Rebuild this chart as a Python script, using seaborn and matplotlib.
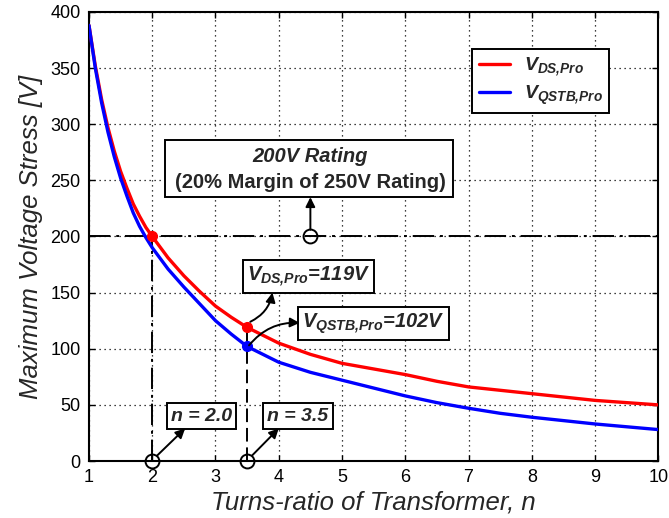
import matplotlib
matplotlib.use("Agg")
import matplotlib.pyplot as plt
from matplotlib.patches import Rectangle
import seaborn as sns
import pandas as pd

# Turns ratio and maximum voltage stress
turns_ratio = [1.0, 1.1, 1.2, 1.3, 1.4, 1.5, 1.6, 1.7, 1.8, 1.9, 2.0, 2.25, 2.5, 2.75,
               3.0, 3.25, 3.5, 4.0, 4.5, 5.0, 5.5, 6.0, 6.5, 7.0, 7.5, 8.0, 8.5,
               9.0, 9.5, 10.0]
v_ds_pro = [388, 352, 322, 297, 276, 258, 243, 229, 218, 208, 200, 181, 165, 151,
            138, 128, 119, 105, 95, 87, 82, 77, 71, 66, 63, 60, 57, 54, 52, 50]
v_qstb_pro = [388, 350, 319, 293, 271, 252, 236, 221, 209, 199, 190, 171, 155, 140,
              125, 113, 102, 88, 79, 72, 65, 58, 52, 47, 42.5, 39, 36, 33, 30.5, 28]

series_names = [r"$V_{DS{,}Pro}$", r"$V_{QSTB{,}Pro}$"]
series_colors = ["#ff0000", "#0000ff"]

rating_limit = 200
rating_n = 4.5
n_low, n_high = 2.0, 3.5
v_ds_at_high = 119
v_qstb_at_high = 102

x_ticks = list(range(1, 11))
y_ticks = list(range(0, 401, 50))

sns.set_theme(style="ticks")
plt.rcParams["font.family"] = ["Liberation Sans", "DejaVu Sans"]
plt.rcParams["mathtext.fontset"] = "custom"
plt.rcParams["mathtext.rm"] = "Liberation Sans:italic:bold"
plt.rcParams["mathtext.it"] = "Liberation Sans:italic:bold"
plt.rcParams["mathtext.bf"] = "Liberation Sans:italic:bold"

df = pd.DataFrame({
    "n": turns_ratio * 2,
    "V": v_ds_pro + v_qstb_pro,
    "series": [series_names[0]] * len(turns_ratio) + [series_names[1]] * len(turns_ratio),
})

fig = plt.figure(figsize=(6.69, 5.18), dpi=100)
ax = fig.add_axes([0.133, 0.11, 0.851, 0.867])

sns.lineplot(data=df, x="n", y="V", hue="series", palette=series_colors,
             linewidth=2.4, ax=ax, zorder=4, sort=False, legend=True)

# Reference lines
dashdot = (0, (11, 3, 1.5, 3))
ax.plot([1, 10], [rating_limit, rating_limit], color="black", lw=1.4, ls=dashdot, zorder=3)
ax.plot([n_low, n_low], [0, rating_limit], color="black", lw=1.4, ls=dashdot, zorder=3)
ax.plot([n_high, n_high], [0, v_ds_at_high], color="black", lw=1.4, ls=(0, (7, 3)), zorder=3)

# Operating points
ax.plot([n_low, n_high], [rating_limit, v_ds_at_high], ls="none", marker="o",
        ms=7, color="#ff0000", zorder=6)
ax.plot([n_high], [v_qstb_at_high], ls="none", marker="o", ms=7, color="#0000ff", zorder=6)

# Open circles marking the reference values
ax.plot([n_low, n_high, rating_n], [0, 0, rating_limit], ls="none", marker="o", ms=10,
        mfc="none", mec="black", mew=1.4, zorder=7, clip_on=False)

box = dict(boxstyle="square,pad=0.22", fc="white", ec="black", lw=1.4)
arrow = dict(arrowstyle="-|>", color="black", lw=1.4, mutation_scale=14,
             shrinkA=0, shrinkB=0)

# 200 V rating note: framed box with two differently styled lines
ax.add_patch(Rectangle((2.2, 235), 4.56, 51, fc="white", ec="black", lw=1.4, zorder=8))
ax.text(rating_n, 271, "200V Rating", ha="center", va="center", fontsize=14.5,
        fontweight="bold", style="italic", zorder=9)
ax.text(rating_n, 248.5, "(20% Margin of 250V Rating)", ha="center", va="center",
        fontsize=14.5, fontweight="bold", zorder=9)
ax.annotate("", xy=(rating_n, 235), xytext=(rating_n, 206), arrowprops=arrow, zorder=8)

# Voltage values at n = 3.5
ax.text(4.47, 164, r"$V_{DS{,}Pro}$=119V", ha="center", va="center", fontsize=14.5,
        fontweight="bold", style="italic", bbox=box, zorder=8)
ax.annotate("", xy=(3.9, 150), xytext=(3.55, 124),
            arrowprops=dict(arrow, connectionstyle="arc3,rad=0.25"), zorder=8)

ax.text(5.5, 122.5, r"$V_{QSTB{,}Pro}$=102V", ha="center", va="center", fontsize=14.5,
        fontweight="bold", style="italic", bbox=box, zorder=8)
ax.annotate("", xy=(4.33, 123), xytext=(3.53, 103),
            arrowprops=dict(arrow, connectionstyle="arc3,rad=-0.25"), zorder=8)

# Turns-ratio labels
ax.text(2.78, 40, "n = 2.0", ha="center", va="center", fontsize=14,
        fontweight="bold", style="italic", bbox=box, zorder=8)
ax.annotate("", xy=(2.52, 29), xytext=(2.08, 5), arrowprops=arrow, zorder=8)
ax.text(4.3, 40, "n = 3.5", ha="center", va="center", fontsize=14,
        fontweight="bold", style="italic", bbox=box, zorder=8)
ax.annotate("", xy=(4.0, 29), xytext=(3.58, 5), arrowprops=arrow, zorder=8)

ax.set_xlim(1, 10)
ax.set_ylim(0, 400)
ax.set_xticks(x_ticks)
ax.set_yticks(y_ticks)
ax.tick_params(direction="in", length=4, width=1, labelsize=13, colors="black",
               top=True, right=True, pad=6)
ax.grid(True, color="black", ls=(0, (1, 3)), lw=0.9)
for s in ax.spines.values():
    s.set_visible(True)
    s.set_color("black")
    s.set_linewidth(1.5)

ax.set_xlabel("Turns-ratio of Transformer, n", fontsize=18.5, style="italic", labelpad=3)
ax.set_ylabel("Maximum Voltage Stress [V]", fontsize=18.5, style="italic", labelpad=5)

leg = ax.legend(loc="upper right", bbox_to_anchor=(0.914, 0.918), fontsize=14,
                frameon=True, fancybox=False, edgecolor="black", framealpha=1,
                handlelength=1.6, borderpad=0.35, labelspacing=0.25, borderaxespad=0,
                handletextpad=0.7, title=None)
leg.get_frame().set_linewidth(1.4)
for h in leg.get_lines():
    h.set_linewidth(2.4)

fig.savefig("out.png", dpi=100)
